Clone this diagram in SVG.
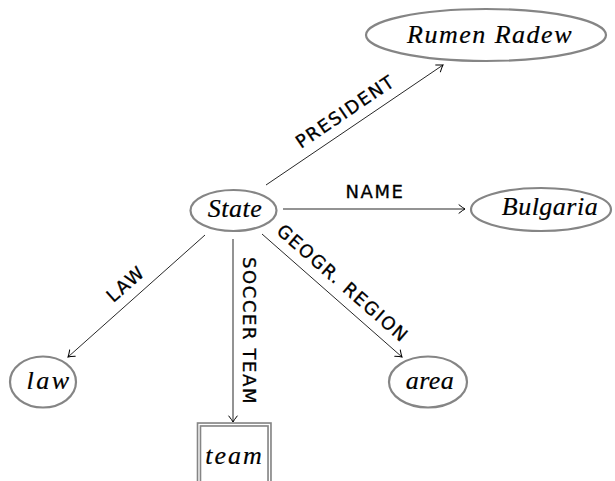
<svg xmlns="http://www.w3.org/2000/svg" width="615" height="481" viewBox="0 0 615 481">
<style>
.node ellipse{fill:#fff;stroke:#858585;stroke-width:2.2}
.nt{font-family:"Liberation Serif","Times New Roman",serif;font-style:italic;font-size:26px;text-anchor:middle;fill:#000;letter-spacing:0.5px;stroke:#000;stroke-width:0.2}
.edge line{stroke:#000;stroke-width:0.85;fill:none;marker-end:url(#arr)}
.lbl{font-family:"DejaVu Sans","Liberation Sans",sans-serif;font-size:18px;text-anchor:middle;fill:#000;letter-spacing:1.6px;stroke:#000;stroke-width:0.3}
</style>
<defs>
<marker id="arr" markerUnits="userSpaceOnUse" markerWidth="12" markerHeight="12" viewBox="-8 -6 10 12" refX="0" refY="0" orient="auto">
<path d="M-6,-4.2 Q-2,-1 0,0 Q-2,1 -6,4.2" fill="none" stroke="#000" stroke-width="1" stroke-linecap="round"/>
</marker>
</defs>
<rect width="615" height="481" fill="#fff"/>
<g id="connectors" class="edge">
<line x1="266" y1="185" x2="443" y2="65"/>
<line x1="283" y1="209" x2="465" y2="209"/>
<line x1="205" y1="235" x2="68" y2="357"/>
<line x1="233" y1="239" x2="233" y2="422"/>
<line x1="262" y1="234" x2="402" y2="357"/>
<text class="lbl" transform="translate(354.5,125) rotate(-34.1)" x="0" y="-10">PRESIDENT</text>
<text class="lbl" x="375" y="198">NAME</text>
<text class="lbl" transform="translate(136.5,296) rotate(-41.7)" x="0" y="-10">LAW</text>
<text class="lbl" transform="translate(233,331) rotate(90)" x="0" y="-10">SOCCER TEAM</text>
<text class="lbl" transform="translate(332,295.5) rotate(41.3)" x="0" y="-10">GEOGR. REGION</text>
</g>
<g id="state" class="node">
<ellipse cx="233.5" cy="210.5" rx="43" ry="20.5"/>
<text class="nt" x="235" y="217">State</text>
</g>
<g id="rumen" class="node">
<ellipse cx="486" cy="35" rx="120" ry="26"/>
<text class="nt" x="490" y="43" style="letter-spacing:1.5px">Rumen Radew</text>
</g>
<g id="bulgaria" class="node">
<ellipse cx="541" cy="209.5" rx="70" ry="21.5"/>
<text class="nt" x="550" y="215">Bulgaria</text>
</g>
<g id="law" class="node">
<ellipse cx="43" cy="382" rx="33" ry="25.5"/>
<text class="nt" x="49" y="389" style="letter-spacing:2.5px">law</text>
</g>
<g id="area" class="node">
<ellipse cx="428" cy="382" rx="39" ry="25.5"/>
<text class="nt" x="430" y="389">area</text>
</g>
<g id="team" class="node">
<rect x="199" y="424.5" width="70.5" height="62" fill="#fff" stroke="#858585" stroke-width="4.6"/>
<rect x="199" y="424.5" width="70.5" height="62" fill="none" stroke="#fff" stroke-width="1.3"/>
<text class="nt" x="234.5" y="464" style="letter-spacing:2px">team</text>
</g>
</svg>
